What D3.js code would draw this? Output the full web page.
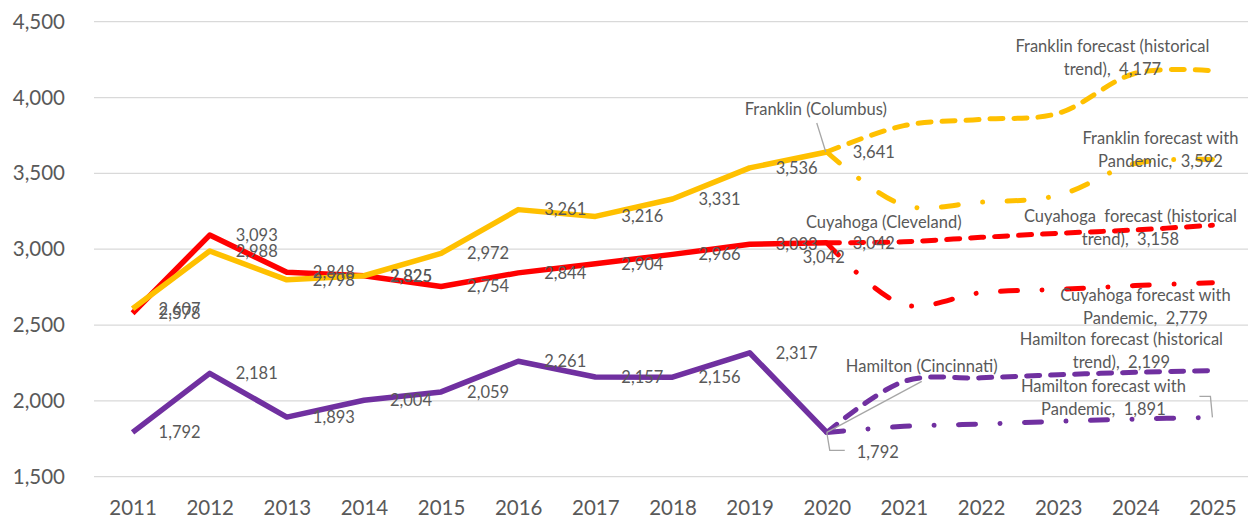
<!DOCTYPE html>
<html>
<head>
<meta charset="utf-8">
<script src="https://cdn.jsdelivr.net/npm/d3@7"></script>
<style>
    body { margin: 0; background: #fff; }
    svg { display: block; font-family: Lato, 'Open Sans', sans-serif; }
</style>
</head>
<body>
<div id="chart"></div>
<script>
(function () {
    'use strict';

    // data
    const years = ['2011', '2012', '2013', '2014', '2015', '2016', '2017', '2018', '2019', '2020', '2021', '2022', '2023', '2024', '2025'];
    const histYears = years.slice(0, 10);
    const fcYears = years.slice(9);
    const yTicks = [1500, 2000, 2500, 3000, 3500, 4000, 4500];

    const franklin = [2607, 2988, 2798, 2825, 2972, 3261, 3216, 3331, 3536, 3641];
    const cuyahoga = [2578, 3093, 2848, 2825, 2754, 2844, 2904, 2966, 3033, 3042];
    const hamilton = [1792, 2181, 1893, 2004, 2059, 2261, 2157, 2156, 2317, 1792];

    const franklinTrend = [3641, 3815, 3856, 3896, 4160, 4177];
    const franklinPandemic = [3641, 3290, 3310, 3355, 3565, 3592];
    const cuyahogaTrend = [3042, 3049, 3078, 3105, 3127, 3158];
    const cuyahogaPandemic = [3042, 2634, 2713, 2735, 2760, 2779];
    const hamiltonTrend = [1792, 2128, 2152, 2172, 2188, 2199];
    const hamiltonPandemic = [1792, 1832, 1847, 1865, 1880, 1891];

    const width = 1248;
    const height = 519;
    const fmt = d3.format(',');

    const YELLOW = '#FFC000';
    const RED = '#FF0000';
    const PURPLE = '#7030A0';
    const TEXT = '#595959';

    const xScale = d3.scalePoint().domain(years).range([94, 1251]).padding(0.5);
    const yScale = d3.scaleLinear().domain([1500, 4500]).range([476.7, 21.7]);

    const svg = d3.select('#chart').append('svg')
        .attr('width', width)
        .attr('height', height);

    // gridlines
    svg.append('g').selectAll('line').data(yTicks).enter().append('line')
        .attr('x1', 94).attr('x2', width)
        .attr('y1', function (d) { return yScale(d); })
        .attr('y2', function (d) { return yScale(d); })
        .style('stroke', '#D9D9D9').style('stroke-width', 1.3);

    const yAxis = d3.axisLeft(yScale).tickValues(yTicks).tickSize(0).tickPadding(29).tickFormat(fmt);
    const xAxis = d3.axisBottom(xScale).tickSize(0).tickPadding(24);

    svg.append('g').attr('transform', 'translate(94,0)').call(yAxis)
        .call(function (g) { g.select('.domain').remove(); })
        .selectAll('text').style('font-size', '20.5px').style('fill', TEXT).style('font-family', 'Lato, sans-serif');
    svg.append('g').attr('transform', 'translate(0,476.7)').call(xAxis)
        .call(function (g) { g.select('.domain').remove(); })
        .selectAll('text').style('font-size', '20.5px').style('fill', TEXT).style('font-family', 'Lato, sans-serif');

    const straight = d3.line()
        .x(function (d) { return xScale(d.year); })
        .y(function (d) { return yScale(d.value); });
    const smooth = d3.line()
        .x(function (d) { return xScale(d.year); })
        .y(function (d) { return yScale(d.value); })
        .curve(d3.curveCatmullRom.alpha(0.5));

    function pts(yrs, vals) {
        return vals.map(function (v, i) { return {year: yrs[i], value: v}; });
    }

    const DASH = '13,11';
    const DASHDOT = '17,24.5,0.01,24.5';

    const forecasts = [
        {vals: franklinTrend, color: YELLOW, dash: DASH, lines: ['Franklin forecast (historical', 'trend),  '], dx: -100, dy: -24},
        {vals: franklinPandemic, color: YELLOW, dash: DASHDOT, lines: ['Franklin forecast with', 'Pandemic,  '], dx: -52, dy: -21},
        {vals: cuyahogaTrend, color: RED, dash: DASH, lines: ['Cuyahoga  forecast (historical', 'trend),  '], dx: -82, dy: -9},
        {vals: cuyahogaPandemic, color: RED, dash: DASHDOT, lines: ['Cuyahoga forecast with', 'Pandemic,  '], dx: -67, dy: 13},
        {vals: hamiltonTrend, color: PURPLE, dash: DASH, lines: ['Hamilton forecast (historical', 'trend),  '], dx: -91, dy: -31},
        {vals: hamiltonPandemic, color: PURPLE, dash: DASHDOT, lines: ['Hamilton forecast with', 'Pandemic,  '], dx: -109, dy: -31}
    ];

    const solids = [
        {vals: cuyahoga, color: RED},
        {vals: franklin, color: YELLOW},
        {vals: hamilton, color: PURPLE}
    ];

    // forecast lines
    forecasts.forEach(function (f) {
        svg.append('path').datum(pts(fcYears, f.vals))
            .attr('d', smooth)
            .style('fill', 'none').style('stroke', f.color).style('stroke-width', 5)
            .style('stroke-dasharray', f.dash).style('stroke-linecap', 'round');
    });

    // historical lines
    solids.forEach(function (s) {
        svg.append('path').datum(pts(histYears, s.vals))
            .attr('d', straight)
            .style('fill', 'none').style('stroke', s.color).style('stroke-width', 5.5)
            .style('stroke-linejoin', 'round');
    });

    const labels = svg.append('g').style('font-size', '16.5px').style('fill', TEXT);

    // value labels right of each point
    solids.forEach(function (s) {
        labels.selectAll(null).data(pts(histYears, s.vals).filter(function (d) {
            return !(s.color === PURPLE && d.year === '2020');
        })).enter().append('text')
            .attr('x', function (d) { return xScale(d.year) + 26; })
            .attr('y', function (d) { return yScale(d.value); })
            .attr('dy', '0.35em')
            .text(function (d) { return fmt(d.value); });
    });

    // forecast end labels
    const last = years[years.length - 1];
    forecasts.forEach(function (f) {
        const v = f.vals[f.vals.length - 1];
        const t = labels.append('text').style('text-anchor', 'middle').style('white-space', 'pre');
        f.lines.forEach(function (l, i) {
            t.append('tspan')
                .attr('x', xScale(last) + f.dx)
                .attr('y', yScale(v) + f.dy + i * 22.5)
                .attr('dy', '0.35em')
                .text(i === f.lines.length - 1 ? l + fmt(v) : l);
        });
    });

    // extra 2020 label of the Cuyahoga trend
    labels.append('text')
        .attr('x', xScale('2020') - 3)
        .attr('y', yScale(cuyahogaTrend[0]) + 14)
        .attr('dy', '0.35em').style('text-anchor', 'middle')
        .text(fmt(cuyahogaTrend[0]));

    // series names with leader lines
    const leader = svg.append('g').style('fill', 'none').style('stroke', '#A6A6A6').style('stroke-width', 1.3);
    const x20 = xScale('2020');

    labels.append('text').attr('x', x20 - 11).attr('y', yScale(franklin[9]) - 43).attr('dy', '0.35em')
        .style('text-anchor', 'middle').text('Franklin (Columbus)');
    leader.append('path').attr('d', d3.line()([[x20 - 10, yScale(franklin[9]) - 29], [x20 - 1, yScale(franklin[9])]]));

    labels.append('text').attr('x', x20 + 57).attr('y', yScale(cuyahoga[9]) - 21).attr('dy', '0.35em')
        .style('text-anchor', 'middle').text('Cuyahoga (Cleveland)');

    labels.append('text').attr('x', x20 + 95).attr('y', yScale(hamilton[9]) - 66).attr('dy', '0.35em')
        .style('text-anchor', 'middle').text('Hamilton (Cincinnati)');
    leader.append('path').attr('d', d3.line()([[x20 + 95, yScale(hamilton[9]) - 51], [x20, yScale(hamilton[9])]]));

    labels.append('text').attr('x', x20 + 30).attr('y', yScale(hamilton[9]) + 20).attr('dy', '0.35em')
        .text(fmt(hamilton[9]));
    leader.append('path').attr('d', d3.line()([[x20, yScale(hamilton[9])], [x20 + 3, yScale(hamilton[9]) + 18], [x20 + 18, yScale(hamilton[9]) + 18]]));

    const yEnd = yScale(hamiltonPandemic[5]);
    const xEnd = xScale(last);
    leader.append('path').attr('d', d3.line()([[xEnd - 13, yEnd - 21], [xEnd - 2, yEnd - 21], [xEnd, yEnd]]));
}());
</script>
</body>
</html>
